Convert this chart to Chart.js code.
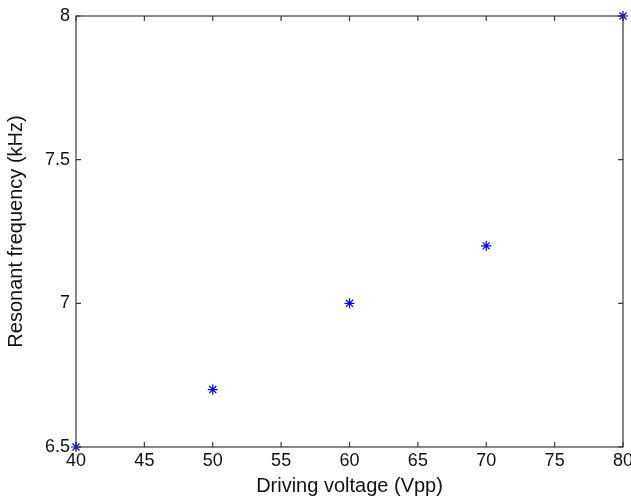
<!DOCTYPE html>
<html>
<head>
<meta charset="utf-8">
<script src="https://cdn.jsdelivr.net/npm/chart.js@4/dist/chart.umd.min.js"></script>
<style>
html,body{margin:0;padding:0;background:#fff;}
#wrap{width:631px;height:500px;}
</style>
</head>
<body>
<div id="wrap"><canvas id="c" width="631" height="500"></canvas></div>
<script>
const voltage = [40, 50, 60, 70, 80];
const frequency = [6.5, 6.7, 7.0, 7.2, 8.0];
const xTicks = [40, 45, 50, 55, 60, 65, 70, 75, 80];
const yTicks = [6.5, 7, 7.5, 8];

const boxPlugin = {
  id: 'boxTicks',
  afterDraw(chart) {
    const ctx = chart.ctx, a = chart.chartArea;
    const xs = chart.scales.x, ys = chart.scales.y;
    ctx.save();
    ctx.strokeStyle = '#3a3a3a';
    ctx.lineWidth = 1.2;
    ctx.strokeRect(a.left, a.top, a.right - a.left, a.bottom - a.top);
    const L = 5;
    ctx.beginPath();
    xTicks.forEach(v => {
      const px = xs.getPixelForValue(v);
      ctx.moveTo(px, a.bottom); ctx.lineTo(px, a.bottom - L);
      ctx.moveTo(px, a.top); ctx.lineTo(px, a.top + L);
    });
    yTicks.forEach(v => {
      const py = ys.getPixelForValue(v);
      ctx.moveTo(a.left, py); ctx.lineTo(a.left + L, py);
      ctx.moveTo(a.right, py); ctx.lineTo(a.right - L, py);
    });
    ctx.stroke();
    ctx.restore();
  }
};

const FONT = 'Liberation Sans, Arial, sans-serif';

new Chart(document.getElementById('c'), {
  type: 'scatter',
  data: {
    datasets: [{
      data: voltage.map((v, i) => ({x: v, y: frequency[i]})),
      pointStyle: 'star',
      pointRadius: 5,
      pointBorderWidth: 1.2,
      borderColor: '#0000ff',
      backgroundColor: '#0000ff',
      clip: false
    }]
  },
  options: {
    responsive: false,
    animation: false,
    layout: {padding: {left: 4, right: 8, top: 16, bottom: 0}},
    plugins: {legend: {display: false}, tooltip: {enabled: false}},
    scales: {
      x: {
        type: 'linear', min: 40, max: 80,
        afterBuildTicks: s => { s.ticks = xTicks.map(v => ({value: v})); },
        afterFit: s => { s.height = 53; s.paddingRight = 0; s.paddingLeft = 0; },
        grid: {display: false, drawTicks: false},
        border: {display: false},
        ticks: {color: '#111', font: {family: FONT, size: 18}, padding: 3, maxRotation: 0},
        title: {display: true, text: 'Driving voltage (Vpp)', color: '#111', font: {family: FONT, size: 20}, padding: {top: 0, bottom: 2}}
      },
      y: {
        type: 'linear', min: 6.5, max: 8,
        afterBuildTicks: s => { s.ticks = yTicks.map(v => ({value: v})); },
        afterFit: s => { s.width = 72; s.paddingTop = 0; s.paddingBottom = 0; },
        grid: {display: false, drawTicks: false},
        border: {display: false},
        ticks: {color: '#111', font: {family: FONT, size: 18}, padding: 6,
          callback: v => String(v)},
        title: {display: true, text: 'Resonant frequency (kHz)', color: '#111', font: {family: FONT, size: 20}, padding: {top: 0, bottom: 4}}
      }
    }
  },
  plugins: [boxPlugin]
});
</script>
</body>
</html>
